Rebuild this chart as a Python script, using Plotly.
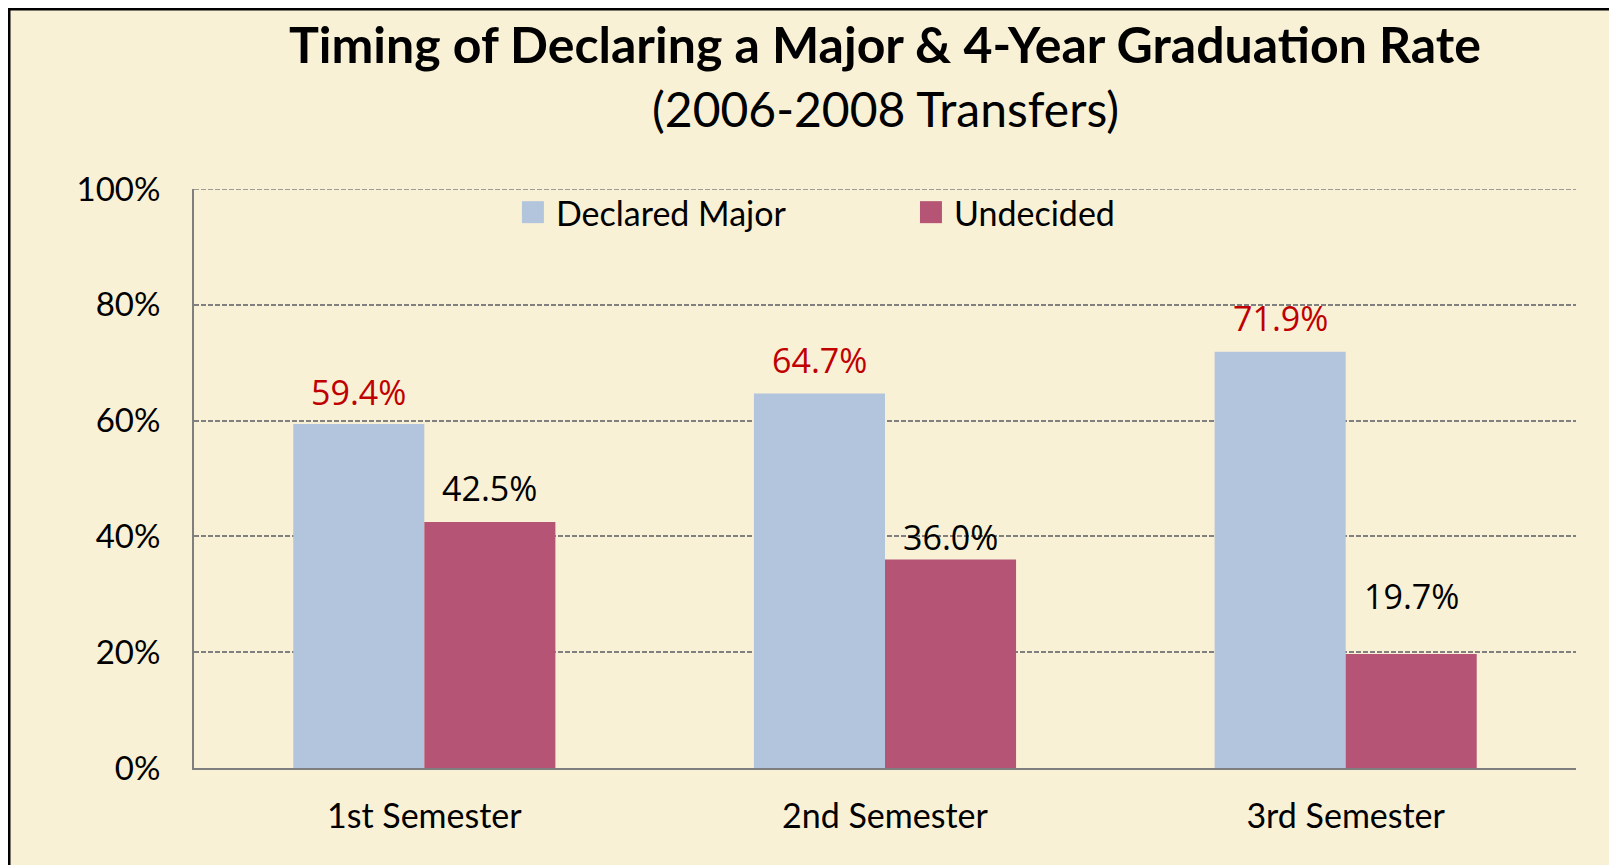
import plotly.graph_objects as go

categories = ["1st Semester", "2nd Semester", "3rd Semester"]
declared = [59.4, 64.7, 71.9]
undecided = [42.5, 36.0, 19.7]
series_names = ["Declared Major", "Undecided"]
y_ticks = [0, 20, 40, 60, 80, 100]
y_tick_labels = ["0%", "20%", "40%", "60%", "80%", "100%"]

# label offsets above bar top (px), as placed in the original
declared_label_shift = [32, 33, 34]
undecided_label_shift = [34, 23, 58]

BG = "#F9F1D6"
BLUE = "#B3C5DC"
PINK = "#B55474"
RED = "#C00000"
GRID = "#808080"
MAIN_FONT = "Lato"
LABEL_FONT = "Open Sans"
GRID_DASH = "5px,2px"

BARGAP = 0.431
colors = [BLUE, PINK]

fig = go.Figure()
fig.add_trace(go.Bar(x=categories, y=declared, name=series_names[0],
                     marker=dict(color=BLUE, line=dict(width=0))))
fig.add_trace(go.Bar(x=categories, y=undecided, name=series_names[1],
                     marker=dict(color=PINK, line=dict(width=0))))

half = (1 - BARGAP) / 4
annotations = []
for i, cat in enumerate(categories):
    annotations.append(dict(x=i - half, y=declared[i], xref="x", yref="y",
                            text=f"{declared[i]:.1f}%", showarrow=False,
                            yanchor="middle", yshift=declared_label_shift[i],
                            font=dict(family=LABEL_FONT, size=34, color=RED)))
    annotations.append(dict(x=i + half, y=undecided[i], xref="x", yref="y",
                            text=f"{undecided[i]:.1f}%", showarrow=False,
                            yanchor="middle", yshift=undecided_label_shift[i],
                            font=dict(family=LABEL_FONT, size=34, color="black")))

# title and subtitle
annotations.append(dict(x=0.5, y=1.0, xref="paper", yref="paper",
                        xanchor="center", yanchor="middle", yshift=145,
                        text="<b>Timing of Declaring a Major &amp; 4-Year Graduation Rate</b>",
                        showarrow=False,
                        font=dict(family=MAIN_FONT, size=50, color="black")))
annotations.append(dict(x=0.5, y=1.0, xref="paper", yref="paper",
                        xanchor="center", yanchor="middle", yshift=81,
                        text="(2006-2008 Transfers)", showarrow=False,
                        font=dict(family=MAIN_FONT, size=48, color="black")))

# manual legend (square swatches + text)
legend_x = [0.2373, 0.5253]
legend_text_x = [0.2605, 0.5485]
legend_y = 0.96
shapes = []
for k, name in enumerate(series_names):
    shapes.append(dict(type="rect", xref="paper", yref="paper",
                       x0=legend_x[k], x1=legend_x[k] + 0.0159,
                       y0=legend_y - 0.019, y1=legend_y + 0.019,
                       line=dict(width=0), fillcolor=colors[k]))
    annotations.append(dict(x=legend_text_x[k], y=legend_y, xref="paper", yref="paper",
                            xanchor="left", yanchor="middle", text=name,
                            showarrow=False,
                            font=dict(family=MAIN_FONT, size=34, color="black")))

# top gridline (at the upper end of the axis)
shapes.append(dict(type="line", xref="paper", yref="y", x0=0, x1=1,
                   y0=y_ticks[-1], y1=y_ticks[-1],
                   line=dict(color=GRID, width=1.5, dash=GRID_DASH), layer="below"))

# outer chart border (top/left visible)
shapes.append(dict(type="rect", xref="paper", yref="paper",
                   xsizemode="pixel", ysizemode="pixel", xanchor=0, yanchor=0,
                   x0=-185, x1=2000, y0=-400, y1=759,
                   line=dict(color="black", width=3), fillcolor="rgba(0,0,0,0)",
                   layer="above"))

fig.update_layout(
    width=1609, height=857,
    margin=dict(l=186, r=41, t=181, b=97),
    paper_bgcolor=BG, plot_bgcolor=BG,
    barmode="group", bargap=BARGAP, bargroupgap=0,
    showlegend=False,
    annotations=annotations,
    shapes=shapes,
    xaxis=dict(showgrid=False, showline=True, linecolor="#7F7F7F", linewidth=2,
               ticks="", tickfont=dict(family=MAIN_FONT, size=34, color="black"),
               ticklabelstandoff=17, range=[-0.5, 2.5]),
    yaxis=dict(range=[0, 100], tickvals=y_ticks, ticktext=y_tick_labels,
               showgrid=True, gridcolor=GRID, gridwidth=1.5, griddash=GRID_DASH,
               showline=True, linecolor="#7F7F7F", linewidth=2,
               zeroline=False, ticks="",
               tickfont=dict(family=MAIN_FONT, size=33, color="black"),
               ticklabelstandoff=25),
)

fig.write_html("out.html")
